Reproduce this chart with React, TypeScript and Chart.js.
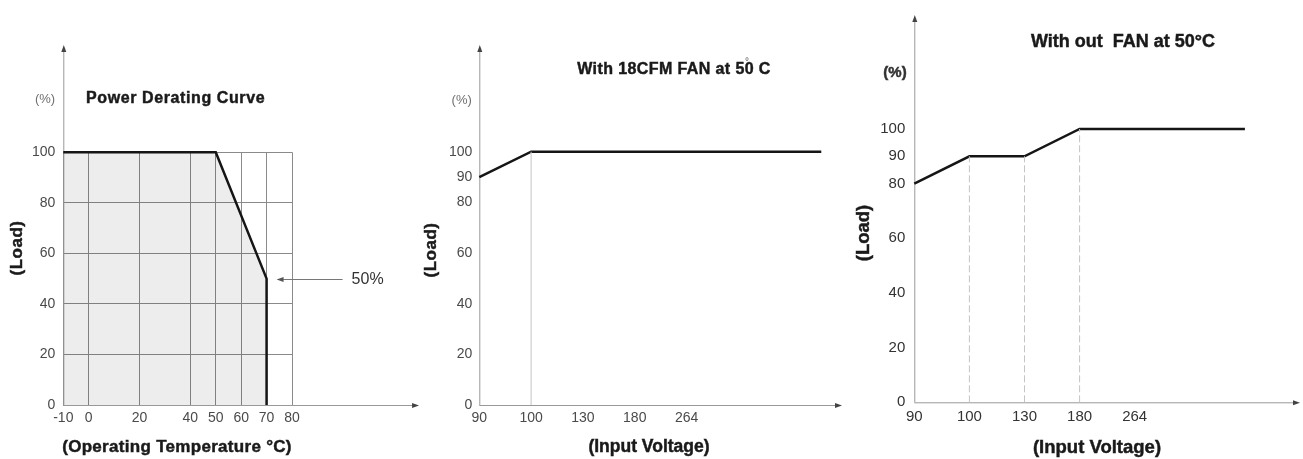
import React, { useEffect, useRef } from "react";
import { Chart, registerables } from "chart.js";

Chart.register(...registerables);

// ---------- Panel 1: Power derating curve ----------
const tempTicks = [-10, 0, 20, 40, 50, 60, 70, 80];
const loadTicks1 = [0, 20, 40, 60, 80, 100];
const deratingTemp = [-10, 50, 70, 70];
const deratingLoad = [100, 100, 50, 0];
const deratingNoteTemp = 70;
const deratingNoteLoad = 50;

// ---------- Panel 2: with 18CFM fan ----------
const voltageLabels = ["90", "100", "130", "180", "264"];
const voltageTickIdx = [0, 1, 2, 3, 4];
const loadTicks23 = [0, 20, 40, 60, 80, 90, 100];
const fanPos = [0, 1, 6.6];
const fanLoad = [90, 100, 100];
const fanGuidePos = [1];

// ---------- Panel 3: without fan ----------
const noFanPos = [0, 1, 2, 3, 6];
const noFanLoad = [80, 90, 90, 100, 100];
const noFanGuidePos = [1, 2, 3];

const FONT = '"Liberation Sans", Arial, Helvetica, sans-serif';
const LINE = "#151515";

type TextItem = {
  text: string;
  x: number;
  y: number;
  size: number;
  bold?: boolean;
  color: string;
  align?: CanvasTextAlign;
  rotate?: boolean;
  spacing?: number;
};

type PanelCfg = {
  left: number;
  top: number;
  width: number;
  height: number;
  area: { l: number; r: number; t: number; b: number }; // page coords
  xMin: number;
  xMax: number;
  yMax: number;
  xTicks: number[];
  yTicks: number[];
  xLabel: (v: number) => string;
  tickSize: number;
  tickColor: string;
  xTickPad: number;
  yTickPad: number;
  grid: boolean;
  yArrowTop: number;
  xArrowEnd: number;
  datasets: any[];
  texts: TextItem[];
  extra?: (chart: any, ox: number, oy: number) => void;
};

function drawArrow(ctx: CanvasRenderingContext2D, x: number, y: number, dir: "up" | "right" | "left", color: string) {
  ctx.save();
  ctx.fillStyle = color;
  ctx.beginPath();
  if (dir === "up") {
    ctx.moveTo(x, y);
    ctx.lineTo(x - 2.5, y + 7);
    ctx.lineTo(x + 2.5, y + 7);
  } else if (dir === "right") {
    ctx.moveTo(x, y);
    ctx.lineTo(x - 7, y - 2.5);
    ctx.lineTo(x - 7, y + 2.5);
  } else {
    ctx.moveTo(x, y);
    ctx.lineTo(x + 7, y - 2.5);
    ctx.lineTo(x + 7, y + 2.5);
  }
  ctx.closePath();
  ctx.fill();
  ctx.restore();
}

function Panel({ cfg }: { cfg: PanelCfg }) {
  const ref = useRef<HTMLCanvasElement>(null);
  useEffect(() => {
    const canvas = ref.current;
    if (!canvas) return;
    const ox = cfg.left;
    const oy = cfg.top;
    const aL = cfg.area.l - ox;
    const aR = cfg.area.r - ox;
    const aT = cfg.area.t - oy;
    const aB = cfg.area.b - oy;

    const decor = {
      id: "decor",
      beforeDatasetsDraw(chart: any) {
        const ctx: CanvasRenderingContext2D = chart.ctx;
        const xs = chart.scales.x;
        const ys = chart.scales.y;
        const x0 = xs.getPixelForValue(cfg.xMin);
        const y0 = ys.getPixelForValue(0);
        const yTop = ys.getPixelForValue(cfg.yArrowTop);
        const xEnd = xs.getPixelForValue(cfg.xArrowEnd);
        ctx.save();
        ctx.strokeStyle = "#999";
        ctx.lineWidth = 1;
        ctx.beginPath();
        ctx.moveTo(x0 + 0.5, y0);
        ctx.lineTo(x0 + 0.5, yTop + 3);
        ctx.moveTo(x0, y0 + 0.5);
        ctx.lineTo(xEnd - 3, y0 + 0.5);
        ctx.stroke();
        ctx.restore();
        drawArrow(ctx, x0 + 0.5, yTop, "up", "#444");
        drawArrow(ctx, xEnd, y0 + 0.5, "right", "#444");
      },
      afterDraw(chart: any) {
        const ctx: CanvasRenderingContext2D = chart.ctx;
        if (cfg.extra) cfg.extra(chart, ox, oy);
        for (const t of cfg.texts) {
          ctx.save();
          ctx.font = `${t.bold ? "bold " : ""}${t.size}px ${FONT}`;
          ctx.fillStyle = t.color;
          ctx.strokeStyle = t.color;
          ctx.lineWidth = 0.45;
          ctx.textAlign = t.align || "center";
          ctx.textBaseline = "middle";
          (ctx as any).letterSpacing = `${t.spacing || 0}px`;
          ctx.translate(t.x - ox, t.y - oy);
          if (t.rotate) ctx.rotate(-Math.PI / 2);
          ctx.fillText(t.text, 0, 0);
          if (t.bold) ctx.strokeText(t.text, 0, 0);
          ctx.restore();
        }
      },
    };

    const chart = new Chart(canvas, {
      type: "line",
      data: { datasets: cfg.datasets },
      options: {
        animation: false,
        responsive: false,
        maintainAspectRatio: false,
        events: [],
        layout: { padding: { left: 0, top: aT, right: cfg.width - aR, bottom: 0 } },
        plugins: { legend: { display: false }, tooltip: { enabled: false }, title: { display: false } },
        elements: { point: { radius: 0 }, line: { tension: 0 } },
        scales: {
          x: {
            type: "linear",
            min: cfg.xMin,
            max: cfg.xMax,
            afterFit: (s: any) => {
              s.height = cfg.height - aB;
            },
            afterBuildTicks: (s: any) => {
              s.ticks = cfg.xTicks.map((v) => ({ value: v }));
            },
            ticks: {
              autoSkip: false,
              maxRotation: 0,
              minRotation: 0,
              padding: cfg.xTickPad,
              color: cfg.tickColor,
              font: { family: FONT, size: cfg.tickSize },
              callback: (v: any) => cfg.xLabel(Number(v)),
            },
            grid: { display: cfg.grid, color: "#8a8a8a", lineWidth: 1, drawTicks: false },
            border: { display: false },
          },
          y: {
            type: "linear",
            min: 0,
            max: cfg.yMax,
            afterFit: (s: any) => {
              s.width = aL;
            },
            afterBuildTicks: (s: any) => {
              s.ticks = cfg.yTicks.map((v) => ({ value: v }));
            },
            ticks: {
              autoSkip: false,
              padding: cfg.yTickPad,
              color: cfg.tickColor,
              font: { family: FONT, size: cfg.tickSize },
              callback: (v: any) => String(v),
            },
            grid: { display: cfg.grid, color: "#8a8a8a", lineWidth: 1, drawTicks: false },
            border: { display: false },
          },
        },
      } as any,
      plugins: [decor],
    });
    return () => chart.destroy();
  }, [cfg]);
  return (
    <canvas
      ref={ref}
      width={cfg.width}
      height={cfg.height}
      style={{ position: "absolute", left: cfg.left, top: cfg.top, width: cfg.width, height: cfg.height }}
    />
  );
}

const pts = (xs: number[], ys: number[]) => xs.map((x, i) => ({ x, y: ys[i] }));

const guide = (pos: number[], line: number[], lineY: number[], dash: number[]) =>
  pos.map((p) => {
    let top = 0;
    for (let i = 0; i < line.length; i++) if (line[i] === p) top = lineY[i];
    return {
      data: [
        { x: p, y: 0 },
        { x: p, y: top },
      ],
      borderColor: "#c4c4c4",
      borderWidth: 1,
      borderDash: dash,
      pointRadius: 0,
      fill: false,
      clip: false,
    };
  });

const panel1: PanelCfg = {
  left: 0,
  top: 0,
  width: 425,
  height: 459,
  area: { l: 63.3, r: 292, t: 152.3, b: 405 },
  xMin: -10,
  xMax: 80,
  yMax: 100,
  xTicks: tempTicks,
  yTicks: loadTicks1,
  xLabel: (v) => String(v),
  tickSize: 14,
  tickColor: "#4a4a4a",
  xTickPad: 4.6,
  yTickPad: 8,
  grid: true,
  yArrowTop: 142.5,
  xArrowEnd: 130,
  datasets: [
    {
      data: pts(deratingTemp, deratingLoad),
      borderColor: LINE,
      borderWidth: 2.5,
      fill: "origin",
      backgroundColor: "rgba(0,0,0,0.07)",
      pointRadius: 0,
      clip: false,
    },
  ],
  texts: [
    { text: "(%)", x: 45, y: 99, size: 13, color: "#707070" },
    { text: "Power Derating Curve", x: 86, y: 99, size: 16, bold: true, color: "#1a1a1a", align: "left", spacing: 0.6 },
    { text: "(Load)", x: 17, y: 248, size: 17, bold: true, color: "#1a1a1a", rotate: true, spacing: 0.5 },
    { text: "(Operating Temperature °C)", x: 177, y: 447, size: 17, bold: true, color: "#1a1a1a", spacing: 0.3 },
  ],
  extra: (chart, ox, oy) => {
    const ctx: CanvasRenderingContext2D = chart.ctx;
    const xs = chart.scales.x;
    const ys = chart.scales.y;
    const x0 = xs.getPixelForValue(deratingNoteTemp) + 10;
    const y = Math.round(ys.getPixelForValue(deratingNoteLoad)) + 0.5;
    ctx.save();
    ctx.strokeStyle = "#777";
    ctx.lineWidth = 1;
    ctx.beginPath();
    ctx.moveTo(x0 + 5, y);
    ctx.lineTo(x0 + 66, y);
    ctx.stroke();
    ctx.restore();
    drawArrow(ctx, x0, y, "left", "#555");
    ctx.save();
    ctx.font = `16px ${FONT}`;
    ctx.fillStyle = "#333";
    ctx.textAlign = "left";
    ctx.textBaseline = "middle";
    ctx.fillText(`${deratingNoteLoad}%`, x0 + 75, y);
    ctx.restore();
  },
};

const panel2: PanelCfg = {
  left: 420,
  top: 0,
  width: 430,
  height: 459,
  area: { l: 479.3, r: 842, t: 151.7, b: 405 },
  xMin: 0,
  xMax: 7,
  yMax: 100,
  xTicks: voltageTickIdx,
  yTicks: loadTicks23,
  xLabel: (v) => voltageLabels[v] ?? "",
  tickSize: 14,
  tickColor: "#4a4a4a",
  xTickPad: 4.6,
  yTickPad: 7,
  grid: false,
  yArrowTop: 142.1,
  xArrowEnd: 7,
  datasets: [
    ...guide(fanGuidePos, fanPos, fanLoad, []),
    {
      data: pts(fanPos, fanLoad),
      borderColor: LINE,
      borderWidth: 2.5,
      fill: false,
      pointRadius: 0,
      clip: false,
    },
  ],
  texts: [
    { text: "With 18CFM FAN at 50 C", x: 674, y: 70, size: 16, bold: true, color: "#1a1a1a", spacing: 0.4 },
    { text: "°", x: 747, y: 62, size: 10, color: "#555" },
    { text: "(%)", x: 461.7, y: 100, size: 13, color: "#707070" },
    { text: "(Load)", x: 431.7, y: 250, size: 17, bold: true, color: "#1a1a1a", rotate: true, spacing: 0.5 },
    { text: "(Input Voltage)", x: 649, y: 447, size: 17.5, bold: true, color: "#1a1a1a" },
  ],
};

const panel3: PanelCfg = {
  left: 850,
  top: 0,
  width: 453,
  height: 459,
  area: { l: 914.3, r: 1300, t: 129, b: 402.3 },
  xMin: 0,
  xMax: 7,
  yMax: 100,
  xTicks: voltageTickIdx,
  yTicks: loadTicks23,
  xLabel: (v) => voltageLabels[v] ?? "",
  tickSize: 15,
  tickColor: "#333",
  xTickPad: 5.4,
  yTickPad: 9,
  grid: false,
  yArrowTop: 141.7,
  xArrowEnd: 7,
  datasets: [
    ...guide(noFanGuidePos, noFanPos, noFanLoad, [7, 3]),
    {
      data: pts(noFanPos, noFanLoad),
      borderColor: LINE,
      borderWidth: 2.5,
      fill: false,
      pointRadius: 0,
      clip: false,
    },
  ],
  texts: [
    { text: "With out  FAN at 50°C", x: 1123, y: 42, size: 18, bold: true, color: "#1a1a1a" },
    { text: "(%)", x: 895, y: 73, size: 15, bold: true, color: "#333" },
    { text: "(Load)", x: 864, y: 233, size: 18.5, bold: true, color: "#1a1a1a", rotate: true },
    { text: "(Input Voltage)", x: 1097, y: 448, size: 18.5, bold: true, color: "#1a1a1a" },
  ],
};

export default function App() {
  return (
    <div style={{ position: "absolute", left: 0, top: 0, width: 1303, height: 459, background: "#fff" }}>
      <Panel cfg={panel1} />
      <Panel cfg={panel2} />
      <Panel cfg={panel3} />
    </div>
  );
}
